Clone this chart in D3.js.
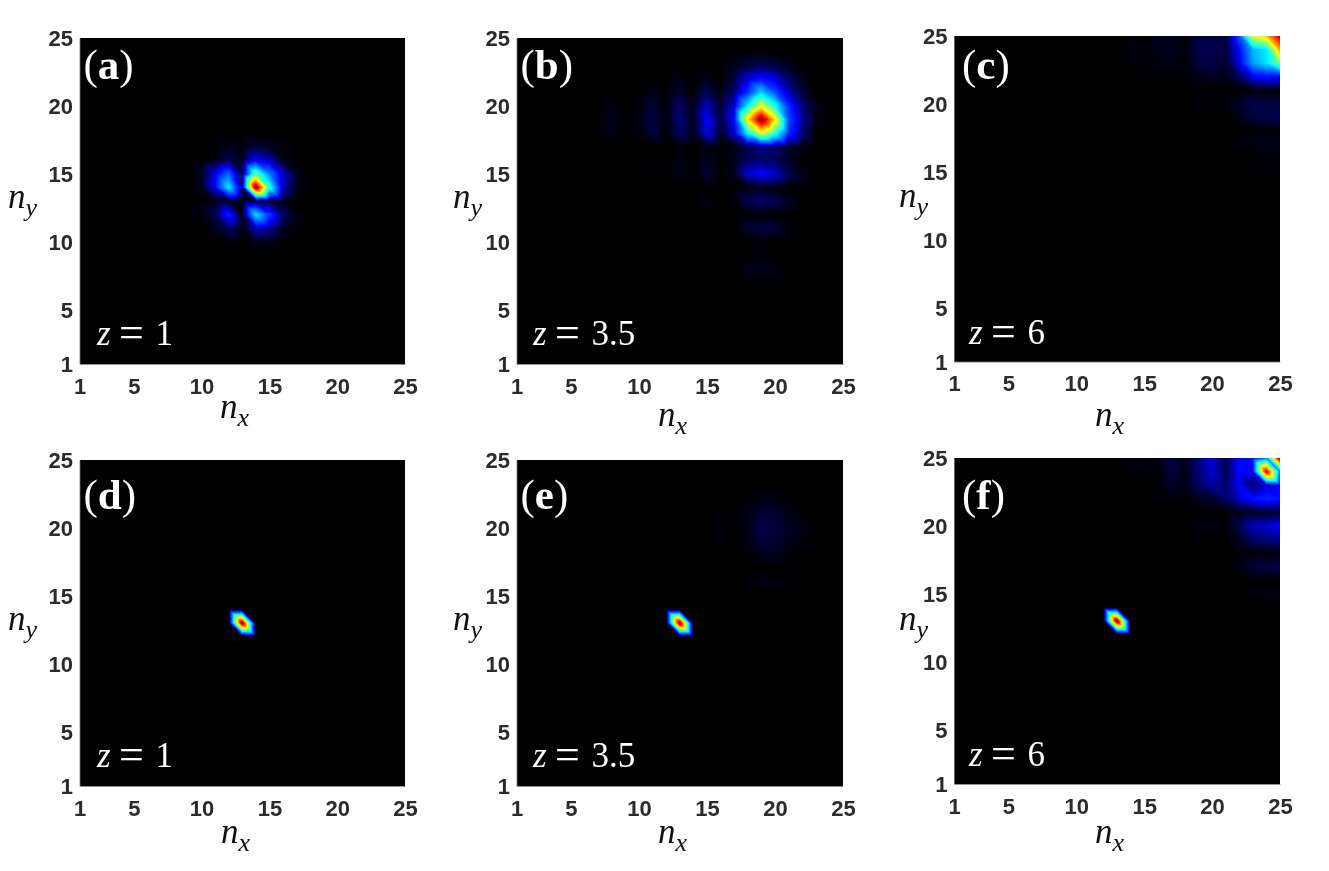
<!DOCTYPE html>
<html><head><meta charset="utf-8">
<script src="https://d3js.org/d3.v7.min.js"></script>
<style>html,body{margin:0;padding:0;background:#fff}#c{position:relative;width:1329px;height:871px;overflow:hidden}canvas,svg{position:absolute;left:0;top:0}</style>
</head><body><div id="c"></div>
<script>
// Each row: [ny, first nx, values...] ; every cell not listed is 0
const gridTicks = [1,5,10,15,20,25];
const panelA = [
 [17,12,[.012,.005,.025,.015,.005]],
 [16,11,[.008,.04,.015,.12,.09,.015]],
 [15,10,[.015,.11,.22,.04,.47,.25,.1,.015]],
 [14,10,[.015,.12,.36,.06,1,.42,.09,.015]],
 [13,11,[.008,.015,.005,.03,.025,.012]],
 [12,10,[.008,.04,.16,.012,.35,.18,.05,.008]],
 [11,11,[.012,.05,.008,.09,.07,.015]],
 [10,12,[.005,0,.015,.012]]
];
const panelB = [
 [23,17,[.008,.025,.04,.03,.012]],
 [22,13,[.01,0,.012,0,.03,.1,.14,.11,.05,.012]],
 [21,11,[.012,0,.025,0,.04,.012,.05,.17,.33,.2,.09,.03]],
 [20,8,[.012,0,.004,.03,.004,.05,.012,.09,.025,.1,.36,.6,.4,.17,.06,.012]],
 [19,8,[.014,.004,.006,.035,.005,.06,.012,.13,.03,.13,.65,1,.66,.2,.07,.012]],
 [18,8,[.012,0,.004,.03,.004,.05,.012,.11,.025,.1,.38,.6,.42,.17,.06]],
 [17,13,[.006,0,.012,0,.01,.04,.06,.05,.02,.005]],
 [16,13,[.008,0,.015,0,.012,.04,.05,.045,.02]],
 [15,11,[.003,0,.01,0,.025,0,.015,.1,.13,.1,.04,.012]],
 [14,18,[.006,.012,.006]],
 [13,15,[.008,0,.006,.04,.05,.04,.018]],
 [12,19,[.006]],
 [11,18,[.022,.032,.027,.006]],
 [10,19,[.005]],
 [9,19,[.006]],
 [8,18,[.01,.013,.01]],
 [7,19,[.006]]
];
const panelC = [
 [25,14,[.006,.002,.012,.012,.005,.03,.035,.03,.2,.6,.68,.93]],
 [24,14,[.006,.002,.012,.012,.005,.035,.04,.03,.13,.3,.36,.72]],
 [23,14,[.004,.002,.008,.008,.004,.03,.035,.02,.11,.28,.35,.5]],
 [22,16,[.003,.003,.002,.012,.016,.01,.05,.12,.14,.13]],
 [21,22,[.003,.005,.005,.005]],
 [20,19,[.004,.003,.004,.015,.035,.03,.03]],
 [19,22,[.012,.03,.035,.04]],
 [18,23,[.003,.003,.003]],
 [17,22,[.004,.012,.015,.012]],
 [16,24,[.002,.002]],
 [15,23,[.003,.005,.004]]
];
const panelD = [[13,13,[1]]];
const panelE = [
 [22,18,[.003,.008,.008,.005]],
 [21,18,[.01,.025,.025,.012,.005]],
 [20,16,[.006,0,.012,.035,.03,.015,.01]],
 [19,16,[.005,0,.01,.03,.025,.012,.005]],
 [18,18,[.004,.012,.01,.005]],
 [16,18,[.004,.01,.009,.003]],
 [13,13,[1]]
];
const panelF = [
 [25,14,[.008,.005,.008,.035,.01,.06,.11,.03,.13,.13,.25,1]],
 [24,14,[.004,.004,.005,.03,.01,.06,.1,.04,.13,.12,.92,.25]],
 [23,16,[.004,.02,.01,.05,.08,.05,.12,.05,.1,.13]],
 [22,16,[.002,.005,.003,.015,.02,.05,.1,.14,.16,.14]],
 [21,21,[.003,.01,.015,.02,.02]],
 [20,19,[.006,.006,.003,.04,.09,.1,.12]],
 [19,19,[.003,0,0,.02,.05,.06,.07]],
 [18,23,[.005,.005,.005]],
 [17,22,[.008,.025,.03,.04]],
 [16,24,[.003,.003]],
 [15,23,[.007,.008,.008]],
 [14,25,[.004]],
 [13,13,[1]]
];
const panelValues = [panelA,panelB,panelC,panelD,panelE,panelF];
const tagLetters = ["a","b","c","d","e","f"];
const panelZ = ["1","3.5","6","1","3.5","6"];

// layout only
const frames = [
 {l:79.5,r:405,t:38,b:364,tagX:83.5,tagY:79,zX:97,zY:345,nxX:220,nxY:418,nyX:8,nyY:208},
 {l:516.5,r:843,t:38,b:364,tagX:520.5,tagY:79,zX:533,zY:345,nxX:658,nxY:426,nyX:453,nyY:208},
 {l:954,r:1280,t:36,b:361.5,tagX:962,tagY:79,zX:969,zY:344,nxX:1095,nxY:426,nyX:899,nyY:207},
 {l:79.5,r:405,t:460,b:786,tagX:83.5,tagY:509,zX:97,zY:767,nxX:221,nxY:843,nyX:8,nyY:630},
 {l:516.5,r:843,t:460,b:786,tagX:520.5,tagY:509,zX:533,zY:767,nxX:658,nxY:843,nyX:453,nyY:630},
 {l:954,r:1280,t:458,b:784,tagX:962,tagY:509,zX:969,zY:766,nxX:1095,nxY:843,nyX:899,nyY:630}
];

const color = d3.scaleLinear()
  .domain([0,.125,.375,.625,.875,1])
  .range(["#000000","#0000ff","#00ffff","#ffff00","#ff0000","#800000"])
  .clamp(true);

const root = d3.select("#c");
const canvas = root.append("canvas").attr("width",1329).attr("height",871);
const ctx = canvas.node().getContext("2d");
const svg = root.append("svg").attr("width",1329).attr("height",871);
const serif = "'Liberation Serif',serif";

panelValues.forEach((rows,k)=>{
  const f = frames[k];
  const x = d3.scaleLinear().domain([1,25]).range([f.l,f.r]);
  const y = d3.scaleLinear().domain([1,25]).range([f.b,f.t]);
  const grid = d3.range(26).map(()=>new Array(27).fill(0));
  rows.forEach(([ny,nx0,vals])=>vals.forEach((v,i)=>{grid[ny][nx0+i]=v;}));
  const x0=Math.round(f.l), y0=Math.round(f.t), w=Math.round(f.r)-x0, h=Math.round(f.b)-y0;
  const img = ctx.createImageData(w,h);
  for(let py=0;py<h;py++)for(let px=0;px<w;px++){
    const nx=Math.min(24.9999,Math.max(1,x.invert(x0+px+.5)));
    const ny=Math.min(24.9999,Math.max(1,y.invert(y0+py+.5)));
    const i=Math.floor(nx), j=Math.floor(ny), u=nx-i, t=ny-j;
    const a=grid[j][i], b=grid[j][i+1], c=grid[j+1][i], e=grid[j+1][i+1];
    const v = (u+t<=1) ? a+u*(b-a)+t*(c-a) : e+(1-u)*(c-e)+(1-t)*(b-e);
    const col=d3.rgb(color(v)), o=(py*w+px)*4;
    img.data[o]=col.r;img.data[o+1]=col.g;img.data[o+2]=col.b;img.data[o+3]=255;
  }
  ctx.putImageData(img,x0,y0);

  const g = svg.append("g");
  const ax = g.append("g").attr("transform",`translate(0,${f.b})`)
    .call(d3.axisBottom(x).tickValues(gridTicks).tickSize(0).tickPadding(14));
  const ay = g.append("g").attr("transform",`translate(${f.l},0)`)
    .call(d3.axisLeft(y).tickValues(gridTicks).tickSize(0).tickPadding(6.5));
  [ax,ay].forEach(s=>{
    s.select(".domain").attr("stroke","#777").attr("stroke-width",.8);
    s.selectAll("text").attr("font-family","'Liberation Sans',Arial,sans-serif")
      .attr("font-weight","bold").attr("font-size",22).attr("fill","#2b2b2b");
  });
  ay.selectAll("text").attr("dy","0.36em");

  const tag=g.append("text").attr("x",f.tagX).attr("y",f.tagY)
    .attr("font-family",serif).attr("font-size",43).attr("fill","#fff");
  tag.append("tspan").text("(");
  tag.append("tspan").attr("font-weight","bold").text(tagLetters[k]);
  tag.append("tspan").text(")");

  const zt=g.append("text").attr("y",f.zY)
    .attr("font-family",serif).attr("font-size",35).attr("fill","#fff");
  zt.append("tspan").attr("x",f.zX).attr("font-style","italic").text("z");
  zt.append("tspan").attr("x",f.zX+22).attr("dy",2).attr("font-size",44).text("=");
  zt.append("tspan").attr("x",f.zX+58.5).attr("dy",-2).text(panelZ[k]);

  const lab=(px,py,sub)=>{
    const t=g.append("text").attr("x",px).attr("y",py)
      .attr("font-family",serif).attr("font-style","italic")
      .attr("font-size",35).attr("fill","#111");
    t.append("tspan").text("n");
    t.append("tspan").attr("dy",8).attr("font-size",26).text(sub);
  };
  lab(f.nxX,f.nxY,"x");
  lab(f.nyX,f.nyY,"y");
});
</script></body></html>
